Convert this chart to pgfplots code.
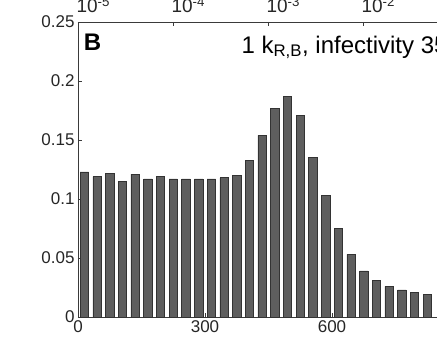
\documentclass[border=0pt]{standalone}
\usepackage{fontspec}
\setmainfont{Liberation Sans}
\usepackage{pgfplots}
\pgfplotsset{compat=1.18}
\definecolor{barfill}{HTML}{5E5E5E}
\definecolor{baredge}{HTML}{333333}
\definecolor{axcol}{HTML}{3A3A3A}
\begin{document}
\begin{tikzpicture}
\useasboundingbox (0,0) rectangle (437pt,349pt);
\clip (0,0) rectangle (437pt,349pt);
\begin{axis}[
  at={(78pt,32pt)}, anchor=south west,
  scale only axis, width=381pt, height=295pt,
  xmin=0, xmax=900, ymin=0, ymax=0.25,
  xtick={0,300,600}, ytick={0,0.05,0.1,0.15,0.2,0.25},
  yticklabels={0,0.05,0.1,0.15,0.2,0.25},
  xtick pos=bottom, ytick pos=left,
  tick align=inside, major tick length=4pt,
  axis line style={axcol, line width=0.9pt},
  tick style={axcol, line width=0.8pt},
  /pgf/number format/assume math mode=true,
  ticklabel style={font=\fontsize{17}{20}\selectfont, text=black!85},
  scaled y ticks=false,
  clip=false,
]
\addplot[ybar, bar width=20, fill=barfill, draw=baredge, line width=0.6pt] coordinates {
(15,0.123) (45,0.119) (75,0.122) (105,0.115) (135,0.121) (165,0.117) (195,0.119)
(225,0.117) (255,0.117) (285,0.117) (315,0.117) (345,0.118) (375,0.120) (405,0.133)
(435,0.154) (465,0.177) (495,0.187) (525,0.171) (555,0.135) (585,0.103) (615,0.075)
(645,0.053) (675,0.039) (705,0.031) (735,0.026) (765,0.023) (795,0.021) (825,0.019)
};
\node[anchor=center, font=\fontsize{24}{28}\selectfont\bfseries] at (rel axis cs:0.038,0.93) {B};
\node[anchor=base west, font=\fontsize{24}{28}\selectfont, inner sep=0pt] at (axis cs:386,0.2237) {1 k\textsubscript{R,B}, infectivity 35};
\end{axis}
\begin{axis}[
  at={(78pt,32pt)}, anchor=south west,
  scale only axis, width=381pt, height=295pt,
  xmin=-5, xmax=-0.9895, ymin=0, ymax=1,
  hide y axis, axis x line*=top,
  xtick={-5,-4,-3,-2,-1},
  xticklabels={10\textsuperscript{-5},10\textsuperscript{-4},10\textsuperscript{-3},10\textsuperscript{-2},10\textsuperscript{-1}},
  tick align=inside, major tick length=4pt,
  axis line style={axcol, line width=0.9pt},
  tick style={axcol, line width=0.8pt},
  xticklabel style={font=\fontsize{19}{20}\selectfont, text=black!85, anchor=base west, xshift=-5pt, yshift=9pt},
  xticklabel shift=0pt,
]
\addplot[draw=none] coordinates {(-5,0) (-1,1)};
\end{axis}
\end{tikzpicture}
\end{document}
